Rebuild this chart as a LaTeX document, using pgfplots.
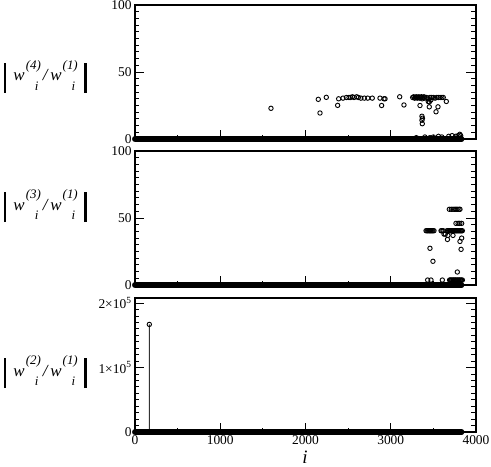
\documentclass[border=0pt]{standalone}
\usepackage{pgfplots}
\pgfplotsset{compat=1.18}
\usepackage{pgfplotstable}
\usepackage{fontspec}
\setmainfont{Liberation Serif}

\newsavebox\supbox
\newcommand{\wpiece}[1]{\textit{w}\kern1bp\sbox\supbox{\fontsize{13}{13}\selectfont\textit{(#1)}}\raisebox{11.5bp}{\usebox\supbox}\kern-\wd\supbox\makebox[\wd\supbox][r]{\raisebox{-9.5bp}{\fontsize{13}{13}\selectfont\textit{i}}\kern2.5bp}}
\newcommand{\wbar}{\raisebox{-12bp}{\rule{2.3bp}{30bp}}}
\newcommand{\wlab}[1]{\wbar\hspace{7.5bp}\wpiece{#1}\kern2bp\textit{/}\kern1.5bp\wpiece{1}\hspace{6.5bp}\wbar}

% baseline: all indices with ratio ~ 0
\pgfplotstableread[row sep=\\]{
x y\\
0 0\\ 20 0\\ 40 0\\ 60 0\\ 80 0\\ 100 0\\ 120 0\\ 140 0\\ 160 0\\ 180 0\\
200 0\\ 220 0\\ 240 0\\ 260 0\\ 280 0\\ 300 0\\ 320 0\\ 340 0\\ 360 0\\ 380 0\\
400 0\\ 420 0\\ 440 0\\ 460 0\\ 480 0\\ 500 0\\ 520 0\\ 540 0\\ 560 0\\ 580 0\\
600 0\\ 620 0\\ 640 0\\ 660 0\\ 680 0\\ 700 0\\ 720 0\\ 740 0\\ 760 0\\ 780 0\\
800 0\\ 820 0\\ 840 0\\ 860 0\\ 880 0\\ 900 0\\ 920 0\\ 940 0\\ 960 0\\ 980 0\\
1000 0\\ 1020 0\\ 1040 0\\ 1060 0\\ 1080 0\\ 1100 0\\ 1120 0\\ 1140 0\\ 1160 0\\ 1180 0\\
1200 0\\ 1220 0\\ 1240 0\\ 1260 0\\ 1280 0\\ 1300 0\\ 1320 0\\ 1340 0\\ 1360 0\\ 1380 0\\
1400 0\\ 1420 0\\ 1440 0\\ 1460 0\\ 1480 0\\ 1500 0\\ 1520 0\\ 1540 0\\ 1560 0\\ 1580 0\\
1600 0\\ 1620 0\\ 1640 0\\ 1660 0\\ 1680 0\\ 1700 0\\ 1720 0\\ 1740 0\\ 1760 0\\ 1780 0\\
1800 0\\ 1820 0\\ 1840 0\\ 1860 0\\ 1880 0\\ 1900 0\\ 1920 0\\ 1940 0\\ 1960 0\\ 1980 0\\
2000 0\\ 2020 0\\ 2040 0\\ 2060 0\\ 2080 0\\ 2100 0\\ 2120 0\\ 2140 0\\ 2160 0\\ 2180 0\\
2200 0\\ 2220 0\\ 2240 0\\ 2260 0\\ 2280 0\\ 2300 0\\ 2320 0\\ 2340 0\\ 2360 0\\ 2380 0\\
2400 0\\ 2420 0\\ 2440 0\\ 2460 0\\ 2480 0\\ 2500 0\\ 2520 0\\ 2540 0\\ 2560 0\\ 2580 0\\
2600 0\\ 2620 0\\ 2640 0\\ 2660 0\\ 2680 0\\ 2700 0\\ 2720 0\\ 2740 0\\ 2760 0\\ 2780 0\\
2800 0\\ 2820 0\\ 2840 0\\ 2860 0\\ 2880 0\\ 2900 0\\ 2920 0\\ 2940 0\\ 2960 0\\ 2980 0\\
3000 0\\ 3020 0\\ 3040 0\\ 3060 0\\ 3080 0\\ 3100 0\\ 3120 0\\ 3140 0\\ 3160 0\\ 3180 0\\
3200 0\\ 3220 0\\ 3240 0\\ 3260 0\\ 3280 0\\ 3300 0\\ 3320 0\\ 3340 0\\ 3360 0\\ 3380 0\\
3400 0\\ 3420 0\\ 3440 0\\ 3460 0\\ 3480 0\\ 3500 0\\ 3520 0\\ 3540 0\\ 3560 0\\ 3580 0\\
3600 0\\ 3620 0\\ 3640 0\\ 3660 0\\ 3680 0\\ 3700 0\\ 3720 0\\ 3740 0\\ 3760 0\\ 3780 0\\
3800 0\\ 3820 0\\ 3830 0\\
}\basetab

% panel (a): |w4/w1|, non-zero values
\pgfplotstableread[row sep=\\]{
x y\\
1595 22.9\\ 2150 29.6\\ 2170 19.4\\ 2244 31.1\\ 2377 25.1\\
2389 30\\ 2440 30.5\\ 2480 31\\ 2510 31\\ 2530 31\\ 2550 31.5\\ 2570 31\\ 2600 31.5\\
2620 31\\ 2650 30.5\\ 2690 30.5\\ 2730 30.5\\ 2783 30.5\\
2874 30.5\\ 2893 25\\ 2921 30\\ 2933 30\\ 3105 31.5\\ 3155 25.4\\
3257 31\\ 3270 31.5\\ 3280 30.5\\ 3290 31\\ 3300 31.5\\ 3310 30.5\\ 3320 31\\ 3330 31.5\\
3340 30.5\\ 3350 31\\ 3360 31.5\\ 3370 30\\ 3380 31\\ 3390 31.5\\ 3400 30.5\\
3420 31\\ 3440 30\\ 3460 31\\ 3480 31\\ 3500 31\\ 3520 30.5\\ 3540 31\\ 3560 31\\
3580 31\\ 3600 31\\ 3616 31\\ 3440 28\\ 3470 29\\
3343 25\\ 3366 17\\ 3372 15.5\\ 3366 14\\ 3370 11.4\\
3452 27.6\\ 3452 24\\ 3531 20.3\\ 3554 24\\ 3652 28\\
3300 1\\ 3400 1.5\\ 3460 1\\ 3500 1.5\\ 3560 2\\ 3600 1.5\\ 3680 2\\ 3720 2.5\\
3760 2\\ 3790 2.5\\ 3810 3.5\\ 3820 2.5\\
}\tabA

% panel (b): |w3/w1|, non-zero values
\pgfplotstableread[row sep=\\]{
x y\\
3414 40.5\\ 3425 40.5\\ 3435 40.5\\ 3445 40.5\\ 3455 40.5\\ 3465 40.5\\ 3475 40.5\\
3485 40.5\\ 3495 40.5\\ 3507 40.5\\
3460 27.4\\ 3495 17.7\\ 3433 3.7\\ 3472 3.7\\ 3605 3.7\\
3590 40.5\\ 3600 40.5\\ 3615 40.5\\ 3625 38\\ 3640 38\\ 3670 37\\ 3665 34\\ 3730 37\\
3687 56.5\\ 3710 56.5\\ 3730 56.5\\ 3750 56.5\\ 3765 56.5\\ 3780 56.5\\ 3800 56.5\\ 3812 56.5\\
3765 46\\ 3790 46\\ 3810 46\\ 3832 46\\
3660 40.5\\ 3670 40.5\\ 3680 40.5\\ 3690 40.5\\ 3700 40.5\\ 3710 40.5\\ 3720 40.5\\
3730 40.5\\ 3740 40.5\\ 3750 40.5\\ 3760 40.5\\ 3770 40.5\\ 3780 40.5\\ 3790 40.5\\
3800 40.5\\ 3810 40.5\\ 3820 40.5\\ 3830 40.5\\ 3840 40.5\\
3832 35\\ 3812 32.5\\ 3825 26.6\\ 3781 9.7\\
3690 3.7\\ 3700 3.7\\ 3710 3.7\\ 3720 3.7\\ 3730 3.7\\ 3740 3.7\\ 3750 3.7\\ 3760 3.7\\
3770 3.7\\ 3780 3.7\\ 3790 3.7\\ 3800 3.7\\ 3810 3.7\\ 3820 3.7\\ 3830 3.7\\ 3840 3.7\\
}\tabB

\pgfplotsset{
  panel/.style={
    scale only axis, width=341bp, height=134bp, anchor=south west,
    xmin=0, xmax=4000, clip=false,
    axis line style={line width=1.1bp},
    tick style={black, line width=0.9bp},
    major tick length=9.5bp, minor tick length=4.5bp,
    tick align=inside,
    xtick={0,1000,2000,3000,4000}, minor x tick num=1,
    xtick pos=left, ytick pos=both,
    tick label style={font=\fontsize{13.5}{14}\selectfont},
    /pgf/number format/assume math mode=true,
    /pgf/number format/1000 sep={},
    every axis y label/.style={at={(rel axis cs:0,0)}, anchor=base west, inner sep=0pt,
      font=\fontsize{17}{20}\selectfont},
    every axis x label/.style={at={(rel axis cs:0,0)}, anchor=base,
      font=\fontsize{19}{20}\selectfont},
  },
  base/.style={sharp plot, line width=5.4bp, mark=*, mark size=2.7bp, black,
    mark options={line width=0.4bp}},
  pts/.style={only marks, mark=o, mark size=2.2bp, black, mark options={line width=0.9bp}},
}

\begin{document}
\begin{tikzpicture}
\useasboundingbox (0,0) rectangle (491bp,-467bp);

\begin{axis}[panel, at={(135bp,-139bp)},
  ymin=0, ymax=100, ytick={0,50,100}, minor y tick num=9,
  xticklabels={},
  ylabel={\wlab{4}}, ylabel style={xshift=-131.5bp, yshift=58.3bp}]
  \addplot[base] table[x=x,y=y]{\basetab};
  \addplot[pts] table[x=x,y=y]{\tabA};
\end{axis}

\begin{axis}[panel, at={(135bp,-285bp)},
  ymin=0, ymax=100, ytick={0,50,100}, minor y tick num=9,
  xticklabels={},
  ylabel={\wlab{3}}, ylabel style={xshift=-131.5bp, yshift=75bp}]
  \addplot[base] table[x=x,y=y]{\basetab};
  \addplot[pts] table[x=x,y=y]{\tabB};
\end{axis}

\begin{axis}[panel, at={(135bp,-432bp)},
  ymin=0, ymax=208000, ytick={0,100000,200000}, minor y tick num=9,
  scaled y ticks=false,
  yticklabels={0, 1×10\textsuperscript{5}, 2×10\textsuperscript{5}},
  ylabel={\wlab{2}}, ylabel style={xshift=-131.5bp, yshift=56bp},
  xlabel={\textit{i}}, xlabel style={xshift=170bp, yshift=-31bp}]
  \addplot[base] table[x=x,y=y]{\basetab};
  \addplot[black!80, line width=0.9bp, mark=o, mark size=2.2bp, mark options={black, line width=0.9bp}, mark indices={2}]
    coordinates {(167,0) (168,167000) (169,0)};
\end{axis}
\end{tikzpicture}
\end{document}
